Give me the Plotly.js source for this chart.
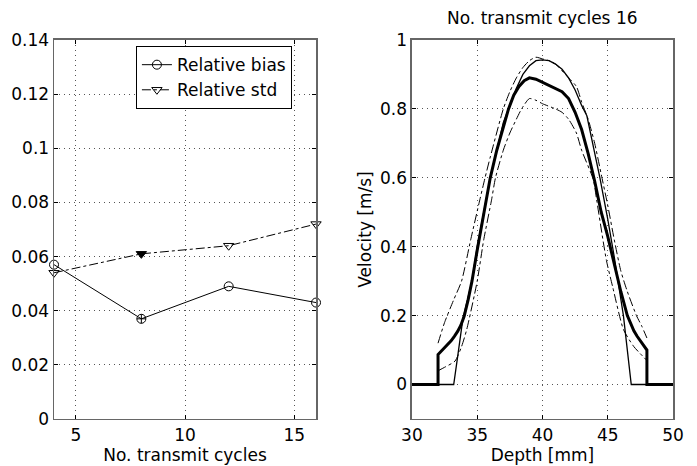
<!DOCTYPE html>
<html>
<head>
<meta charset="utf-8">
<script src="https://cdn.plot.ly/plotly-3.0.1.min.js"></script>
<style>html,body{margin:0;padding:0;background:#fff;}#chart{width:697px;height:466px;}</style>
</head>
<body>
<div id="chart"></div>
<script>
// Left panel data
const cycles = [4, 8, 12, 16];
const relBias = [0.057, 0.037, 0.049, 0.043];
const relStd = [0.054, 0.061, 0.064, 0.072];

// Right panel data (depth in mm, velocity in m/s)
const trueDepth = [30, 33.2, 33.5, 33.9, 34.6, 35, 35.5, 36, 37, 38, 38.5, 39, 39.5, 40, 40.5, 41, 41.5, 42, 42.5, 43, 43.4, 43.8, 44.4, 45, 45.5, 46.2, 46.8, 50];
const trueVel   = [0, 0, 0.08, 0.19, 0.3, 0.4, 0.5, 0.6, 0.76, 0.86, 0.9, 0.925, 0.94, 0.942, 0.94, 0.93, 0.915, 0.89, 0.855, 0.81, 0.78, 0.71, 0.6, 0.48, 0.37, 0.2, 0, 0];

const meanDepth = [30, 32, 32, 32.25, 32.5, 32.75, 33, 33.25, 33.5, 33.75, 34, 34.3, 34.6, 35, 35.5, 36, 36.5, 37, 37.4, 37.8, 38.2, 38.6, 39, 39.5, 40, 40.5, 41, 41.5, 42, 42.5, 43, 43.5, 44, 44.5, 45, 45.5, 46, 46.5, 46.75, 47, 47.25, 47.5, 47.75, 48, 48, 50];
const meanVel   = [0, 0, 0.087, 0.097, 0.106, 0.116, 0.127, 0.14, 0.154, 0.172, 0.198, 0.245, 0.3, 0.39, 0.5, 0.6, 0.68, 0.745, 0.8, 0.84, 0.865, 0.882, 0.89, 0.886, 0.877, 0.868, 0.86, 0.85, 0.83, 0.79, 0.74, 0.67, 0.59, 0.5, 0.43, 0.35, 0.27, 0.2, 0.176, 0.156, 0.14, 0.126, 0.113, 0.1, 0, 0];

const upperDepth = [32, 32.5, 33.2, 33.8, 34.5, 35.2, 35.6, 36, 37, 37.5, 38, 38.5, 39, 39.5, 40, 40.5, 41, 42, 42.6, 43, 43.5, 44, 44.5, 45, 45.5, 46, 46.5, 47.2, 47.6, 48];
const upperVel   = [0.12, 0.18, 0.246, 0.3, 0.42, 0.536, 0.6, 0.66, 0.8, 0.85, 0.89, 0.92, 0.94, 0.95, 0.945, 0.94, 0.93, 0.89, 0.865, 0.82, 0.77, 0.7, 0.61, 0.52, 0.42, 0.33, 0.27, 0.2, 0.17, 0.135];

const lowerDepth = [32, 32.5, 33.3, 33.8, 34.2, 35, 35.5, 36.1, 36.4, 37, 37.5, 38, 38.4, 39, 39.5, 40, 41, 41.5, 42, 42.6, 43, 43.9, 44.15, 44.9, 45.4, 46.2, 47, 48];
const lowerVel   = [0.04, 0.05, 0.068, 0.11, 0.16, 0.3, 0.42, 0.536, 0.6, 0.68, 0.73, 0.77, 0.8, 0.83, 0.825, 0.815, 0.8, 0.79, 0.77, 0.73, 0.68, 0.594, 0.536, 0.36, 0.28, 0.16, 0.11, 0.07];

const FONT = 'DejaVu Sans, Liberation Sans, sans-serif';
const FS = 17;

const traces = [
  {x: cycles, y: relBias, name: 'Relative bias', type: 'scatter', mode: 'lines+markers',
   xaxis: 'x', yaxis: 'y', cliponaxis: false,
   line: {color: '#000', width: 1},
   marker: {symbol: ['circle-open', 'circle-cross-open', 'circle-open', 'circle-open'], size: 9, color: '#000', line: {width: 1, color: '#000'}}},
  {x: cycles, y: relStd, name: 'Relative std', type: 'scatter', mode: 'lines+markers',
   xaxis: 'x', yaxis: 'y', cliponaxis: false,
   line: {color: '#000', width: 1, dash: 'dashdot'},
   marker: {symbol: ['triangle-down-open', 'triangle-down', 'triangle-down-open', 'triangle-down-open'], size: 9, color: '#000', line: {width: 1, color: '#000'}}},
  {x: trueDepth, y: trueVel, type: 'scatter', mode: 'lines', showlegend: false,
   xaxis: 'x2', yaxis: 'y2', line: {color: '#000', width: 1.3}},
  {x: upperDepth, y: upperVel, type: 'scatter', mode: 'lines', showlegend: false,
   xaxis: 'x2', yaxis: 'y2', line: {color: '#000', width: 1, dash: 'dashdot', shape: 'spline', smoothing: 0.6}},
  {x: lowerDepth, y: lowerVel, type: 'scatter', mode: 'lines', showlegend: false,
   xaxis: 'x2', yaxis: 'y2', line: {color: '#000', width: 1, dash: 'dashdot', shape: 'spline', smoothing: 0.6}},
  {x: meanDepth, y: meanVel, type: 'scatter', mode: 'lines', showlegend: false,
   xaxis: 'x2', yaxis: 'y2', line: {color: '#000', width: 3}}
];

const axBase = {
  showline: true, mirror: 'ticks', linecolor: '#666', linewidth: 1.5,
  ticks: 'inside', ticklen: 4, tickcolor: '#000',
  showgrid: true, gridcolor: '#555', griddash: '1px,4px', gridwidth: 1,
  zeroline: false, tickfont: {family: FONT, size: FS, color: '#000'}
};

const layout = {
  width: 697, height: 466,
  margin: {l: 0, r: 0, t: 0, b: 0},
  paper_bgcolor: '#fff', plot_bgcolor: '#fff',
  font: {family: FONT, color: '#000'},
  title: {text: 'No. transmit cycles 16', x: 0.778, xref: 'paper', xanchor: 'center',
          y: 0.962, yref: 'paper', yanchor: 'middle', font: {family: FONT, size: FS, color: '#000'}},
  xaxis: Object.assign({}, axBase, {domain: [0.0775, 0.4534], range: [4, 16], tickvals: [5, 10, 15],
    title: {text: 'No. transmit cycles', font: {family: FONT, size: FS, color: '#000'}, standoff: 2}, anchor: 'y'}),
  yaxis: Object.assign({}, axBase, {domain: [0.1009, 0.9142], range: [0, 0.14], dtick: 0.02, anchor: 'x'}),
  xaxis2: Object.assign({}, axBase, {domain: [0.591, 0.9656], range: [30, 50], dtick: 5,
    title: {text: 'Depth [mm]', font: {family: FONT, size: FS, color: '#000'}, standoff: 2}, anchor: 'y2'}),
  yaxis2: Object.assign({}, axBase, {domain: [0.1009, 0.9142], range: [-0.1, 1], tickvals: [0, 0.2, 0.4, 0.6, 0.8, 1],
    title: {text: 'Velocity [m/s]', font: {family: FONT, size: FS, color: '#000'}, standoff: 4}, anchor: 'x2'}),
  showlegend: true,
  legend: {x: 0.195, y: 0.901, xanchor: 'left', yanchor: 'top', bgcolor: '#fff',
           bordercolor: '#000', borderwidth: 1, font: {family: FONT, size: FS, color: '#000'},
           tracegroupgap: 0, itemwidth: 30}
};

Plotly.newPlot('chart', traces, layout, {displayModeBar: false, staticPlot: true});
</script>
</body>
</html>
